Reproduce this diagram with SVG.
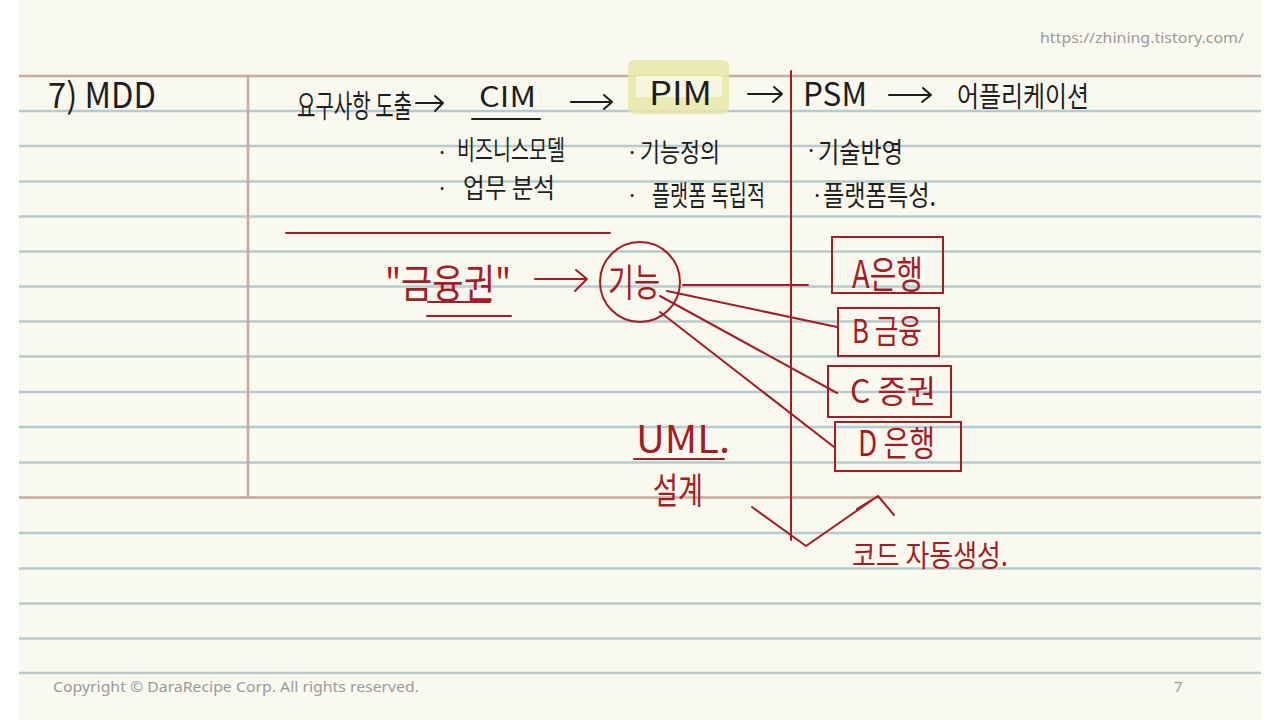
<svg xmlns="http://www.w3.org/2000/svg" width="1280" height="720" viewBox="0 0 1280 720">
  <defs>
    <style>
      .blue { stroke: #B5CBCE; stroke-width: 2.5; }
      .brown { stroke: #C9A89E; stroke-width: 2.5; }
      .ink { font-family: "Noto Sans CJK KR", "Noto Sans", sans-serif; fill: #1E1E1E; }
      .red { font-family: "Noto Sans CJK KR", "Noto Sans", sans-serif; fill: #A51C24; }
      .rline { stroke: #A51C24; stroke-width: 2; fill: none; stroke-linecap: round; stroke-linejoin: round; }
      .kline { stroke: #1E1E1E; stroke-width: 2; fill: none; stroke-linecap: round; stroke-linejoin: round; }
      .box { fill: none; stroke: #A51C24; stroke-width: 2; }
      .foot { font-family: "Noto Sans", "Liberation Sans", sans-serif; fill: #9A9A9A; font-size: 15px; }
    </style>
  </defs>

  <!-- background -->
  <rect x="0" y="0" width="1280" height="720" fill="#FFFFFF"/>
  <rect x="19" y="0" width="1242" height="720" fill="#FAF9F0"/>

  <!-- ruled lines -->
  <g id="ruling">
    <line class="blue" x1="19" y1="111" x2="1261" y2="111"/>
    <line class="blue" x1="19" y1="146" x2="1261" y2="146"/>
    <line class="blue" x1="19" y1="181.5" x2="1261" y2="181.5"/>
    <line class="blue" x1="19" y1="216.5" x2="1261" y2="216.5"/>
    <line class="blue" x1="19" y1="251.5" x2="1261" y2="251.5"/>
    <line class="blue" x1="19" y1="286.5" x2="1261" y2="286.5"/>
    <line class="blue" x1="19" y1="321.5" x2="1261" y2="321.5"/>
    <line class="blue" x1="19" y1="356.5" x2="1261" y2="356.5"/>
    <line class="blue" x1="19" y1="392" x2="1261" y2="392"/>
    <line class="blue" x1="19" y1="427" x2="1261" y2="427"/>
    <line class="blue" x1="19" y1="462.5" x2="1261" y2="462.5"/>
    <line class="blue" x1="19" y1="533" x2="1261" y2="533"/>
    <line class="blue" x1="19" y1="568.5" x2="1261" y2="568.5"/>
    <line class="blue" x1="19" y1="603.5" x2="1261" y2="603.5"/>
    <line class="blue" x1="19" y1="638.5" x2="1261" y2="638.5"/>
    <line class="blue" x1="19" y1="673" x2="1261" y2="673"/>
    <line class="brown" x1="19" y1="76" x2="1261" y2="76"/>
    <line class="brown" x1="19" y1="497.5" x2="1261" y2="497.5"/>
    <line class="brown" x1="248" y1="76" x2="248" y2="497.5"/>
  </g>

  <!-- header / footer -->
  <text class="foot" x="1040" y="43" textLength="204" lengthAdjust="spacingAndGlyphs">https://zhining.tistory.com/</text>
  <text class="foot" x="53" y="692" textLength="366" lengthAdjust="spacingAndGlyphs">Copyright © DaraRecipe Corp. All rights reserved.</text>
  <text class="foot" x="1174" y="692">7</text>

  <!-- title -->
  <text class="ink" x="48" y="108" font-size="35" textLength="108" lengthAdjust="spacingAndGlyphs">7) MDD</text>

  <!-- PIM highlight -->
  <rect x="628" y="60" width="101" height="54" rx="6" fill="#E9E7A8" opacity="0.85"/>
  <rect x="636" y="76" width="86" height="21" fill="#F7F6DE"/>

  <!-- top process row -->
  <g id="node-req">
    <text class="ink" x="297" y="117" font-size="31" textLength="115" lengthAdjust="spacingAndGlyphs">요구사항 도출</text>
  </g>
  <g id="node-cim">
    <text class="ink" x="479" y="107" font-size="28" textLength="57" lengthAdjust="spacingAndGlyphs">CIM</text>
    <line class="kline" x1="472" y1="119" x2="540" y2="119"/>
    <text class="ink" x="436" y="160" font-size="22">·</text>
    <text class="ink" x="457" y="160" font-size="27" textLength="108" lengthAdjust="spacingAndGlyphs">비즈니스모델</text>
    <text class="ink" x="436" y="196" font-size="22">·</text>
    <text class="ink" x="463" y="198" font-size="27" textLength="92" lengthAdjust="spacingAndGlyphs">업무 분석</text>
  </g>
  <g id="node-pim">
    <text class="ink" x="649" y="105" font-size="32" textLength="63" lengthAdjust="spacingAndGlyphs">PIM</text>
    <text class="ink" x="626" y="160" font-size="22">·</text>
    <text class="ink" x="640" y="162" font-size="26" textLength="80" lengthAdjust="spacingAndGlyphs">기능정의</text>
    <text class="ink" x="626" y="203" font-size="22">·</text>
    <text class="ink" x="652" y="206" font-size="28" textLength="113" lengthAdjust="spacingAndGlyphs">플랫폼 독립적</text>
  </g>
  <g id="node-psm">
    <text class="ink" x="803" y="106" font-size="32" textLength="64" lengthAdjust="spacingAndGlyphs">PSM</text>
    <text class="ink" x="805" y="158" font-size="22">·</text>
    <text class="ink" x="818" y="163" font-size="28" textLength="85" lengthAdjust="spacingAndGlyphs">기술반영</text>
    <text class="ink" x="811" y="203" font-size="22">·</text>
    <text class="ink" x="823" y="206" font-size="28" textLength="113" lengthAdjust="spacingAndGlyphs">플랫폼특성.</text>
  </g>
  <g id="node-app">
    <text class="ink" x="957" y="107" font-size="28" textLength="132" lengthAdjust="spacingAndGlyphs">어플리케이션</text>
  </g>

  <!-- red content -->
  <g id="divider">
    <line class="rline" x1="791" y1="71" x2="791" y2="540"/>
    <line class="rline" x1="286" y1="233" x2="610" y2="233"/>
  </g>

  <g id="node-finance">
    <text class="red" x="385" y="298" font-size="40" textLength="126" lengthAdjust="spacingAndGlyphs">"금융권"</text>
    <line class="rline" x1="428" y1="302" x2="490" y2="302"/>
    <line class="rline" x1="427" y1="316" x2="511" y2="316"/>
  </g>

  <g id="node-func">
    <circle class="rline" cx="640" cy="282" r="40"/>
    <text class="red" x="608" y="296" font-size="38" textLength="52" lengthAdjust="spacingAndGlyphs">기능</text>
  </g>

  <g id="node-a">
    <rect class="box" x="832" y="237" width="111" height="56"/>
    <text class="red" x="852" y="288" font-size="38" textLength="71" lengthAdjust="spacingAndGlyphs">A은행</text>
  </g>
  <g id="node-b">
    <rect class="box" x="838" y="308" width="101" height="48"/>
    <text class="red" x="852" y="343" font-size="33" textLength="70" lengthAdjust="spacingAndGlyphs">B 금융</text>
  </g>
  <g id="node-c">
    <rect class="box" x="828" y="366" width="123" height="51"/>
    <text class="red" x="850" y="403" font-size="32" textLength="86" lengthAdjust="spacingAndGlyphs">C 증권</text>
  </g>
  <g id="node-d">
    <rect class="box" x="835" y="422" width="126" height="49"/>
    <text class="red" x="858" y="456" font-size="35" textLength="77" lengthAdjust="spacingAndGlyphs">D 은행</text>
  </g>

  <g id="node-uml">
    <text class="red" x="636" y="453" font-size="38" textLength="94" lengthAdjust="spacingAndGlyphs">UML.</text>
    <line class="rline" x1="634" y1="459" x2="724" y2="459"/>
    <text class="red" x="653" y="504" font-size="36" textLength="50" lengthAdjust="spacingAndGlyphs">설계</text>
  </g>

  <g id="node-codegen">
    <text class="red" x="852" y="566" font-size="30" textLength="156" lengthAdjust="spacingAndGlyphs">코드 자동생성.</text>
  </g>

  <!-- connectors -->
  <g id="connectors">
    <!-- black arrows -->
    <path class="kline" d="M416 103 H443 M435 96 L443 103 L435 111"/>
    <path class="kline" d="M571 102 H612 M604 95 L612 102 L604 109"/>
    <path class="kline" d="M748 94 H782 M774 87 L782 94 L773 102"/>
    <path class="kline" d="M889 95 H931 M923 88 L931 95 L922 102"/>
    <!-- red -->
    <path class="rline" d="M535 279 H587 M576 270 L587 279 L575 291"/>
    <line class="rline" x1="683" y1="285" x2="808" y2="285"/>
    <line class="rline" x1="667" y1="291" x2="837" y2="327"/>
    <line class="rline" x1="660" y1="296" x2="837" y2="393"/>
    <line class="rline" x1="660" y1="312" x2="834" y2="447"/>
    <path class="rline" d="M752 507 L806 546 L878 496 M857 509 L878 496 L894 515"/>
  </g>
</svg>
